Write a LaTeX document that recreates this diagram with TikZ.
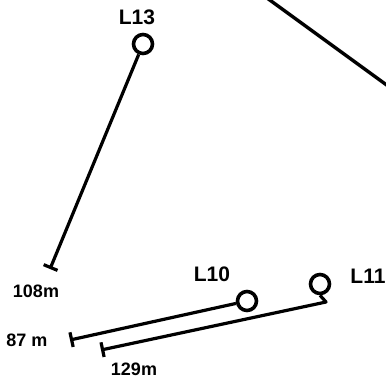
\documentclass[tikz,border=0pt]{standalone}
\usepackage{fontspec}
\setmainfont{Liberation Sans}
\usetikzlibrary{arrows.meta,positioning}

\begin{document}
\begin{tikzpicture}[x=1pt,y=-1pt,
stn/.style={draw,circle,line width=3.6pt,minimum size=19pt,inner sep=0pt},
lbl/.style={font=\fontsize{18}{18}\selectfont\bfseries,inner sep=0pt},
stnlbl/.style={font=\fontsize{21}{21}\selectfont\bfseries,inner sep=0pt},
leg/.style={line width=3.2pt,line join=round,-{Bar[width=15pt]}}
]
\useasboundingbox (0,0) rectangle (386,384);
% stations
\node[stn] (c13) at (143,44) {};
\node[stn] (c10) at (247,301) {};
\node[stn] (c11) at (320,284) {};
\node[stnlbl] (l13) at (137,17) {L13};
\node[stnlbl] (l10) at (212,274) {L10};
\node[stnlbl] (l11) at (368,276) {L11};
% ends of the legs
\coordinate (e13) at (50,269);
\coordinate (e10) at (70,340);
\coordinate (k11) at (326,302);
\coordinate (e11) at (101,350);
\node[lbl] (d13) at (36,291) {108m};
\node[lbl] (d10) at (27,340) {87 m};
\node[lbl] (d11) at (134,369) {129m};
\draw[leg] (c13) -- (e13);
\draw[leg] (c10) -- (e10);
\draw[leg] (c11.south) -- (k11) -- (e11);
% line at top right
\coordinate (p1) at (267,-2);
\coordinate (p2) at (388,86);
\draw[line width=3.4pt] (p1) -- (p2);
\end{tikzpicture}
\end{document}
